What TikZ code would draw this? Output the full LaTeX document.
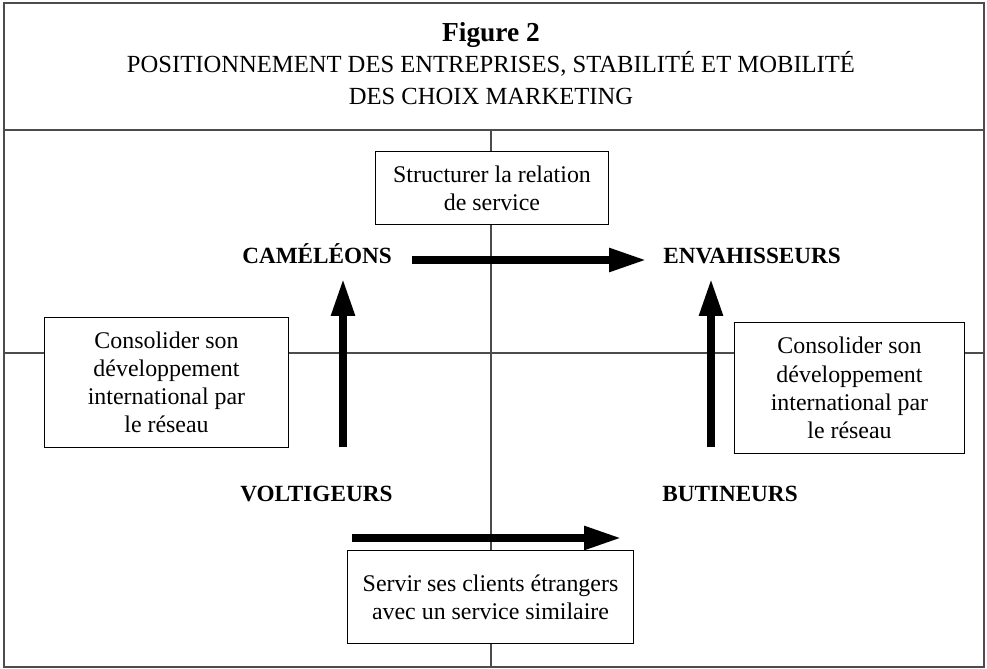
\documentclass[tikz,border=0pt]{standalone}
\usepackage{fontspec}
\setmainfont{Liberation Serif}
\usetikzlibrary{arrows.meta,positioning}

\tikzset{
	axe/.style={line width=1pt, draw=black!70},
	boite/.style={draw, fill=white, align=center, inner sep=0pt, line width=0.7pt, font=\fontsize{17}{20}\selectfont},
	groupe/.style={anchor=base west, inner sep=0pt, font=\bfseries\fontsize{16.5}{19}\selectfont},
	ligne/.style={anchor=base, inner sep=0pt, font=\fontsize{17.5}{20}\selectfont},
	fleche/.style={line width=5pt, -{Triangle[length=9.2mm,width=5.6mm]}}
}

\begin{document}
\begin{tikzpicture}[x=0.025cm,y=-0.025cm]
\useasboundingbox (0,0) rectangle (987,669);

% Cadre et titre
\draw[axe] (4,3) rectangle (984,667);
\draw[axe] (4,130) -- (984,130);
\node[ligne, font=\bfseries\fontsize{19.5}{22}\selectfont] (fig) at (491,42) {Figure 2};
\node[ligne] (titreA) at (491,73) {POSITIONNEMENT DES ENTREPRISES, STABILIT\'E ET MOBILIT\'E};
\node[ligne] (titreB) at (491,105) {DES CHOIX MARKETING};

% Axes
\draw[axe] (4,353) -- (984,353);
\draw[axe] (491,130) -- (491,667);

% Boites
\node[boite, minimum width=5.8cm, minimum height=1.8cm] (structurer) at (492,188)
	{Structurer la relation\\de service};
\node[boite, minimum width=6.075cm, minimum height=3.225cm] (reseauG) at (166.5,382.5)
	{Consolider son\\d\'eveloppement\\international par\\le r\'eseau};
\node[boite, minimum width=5.725cm, minimum height=3.25cm] (reseauD) at (849.5,388)
	{Consolider son\\d\'eveloppement\\international par\\le r\'eseau};
\node[boite, minimum width=7.125cm, minimum height=2.3cm] (servir) at (490.5,597)
	{Servir ses clients \'etrangers\\avec un service similaire};

% Groupes
\node[groupe] (cameleons) at (242,264) {CAM\'EL\'EONS};
\node[groupe] (envahisseurs) at (663,264) {ENVAHISSEURS};
\node[groupe] (voltigeurs) at (240,501) {VOLTIGEURS};
\node[groupe] (butineurs) at (662,501) {BUTINEURS};

% Fleches
\coordinate (hautA) at (412,260);
\coordinate (hautB) at (646,260);
\coordinate (basA) at (352,538);
\coordinate (basB) at (621,538);
\coordinate (gaucheA) at (343,447);
\coordinate (gaucheB) at (343,279);
\coordinate (droiteA) at (711,447);
\coordinate (droiteB) at (711,279);

\draw[fleche] (hautA) -- (hautB);
\draw[fleche] (basA) -- (basB);
\draw[fleche] (gaucheA) -- (gaucheB);
\draw[fleche] (droiteA) -- (droiteB);
\end{tikzpicture}
\end{document}
